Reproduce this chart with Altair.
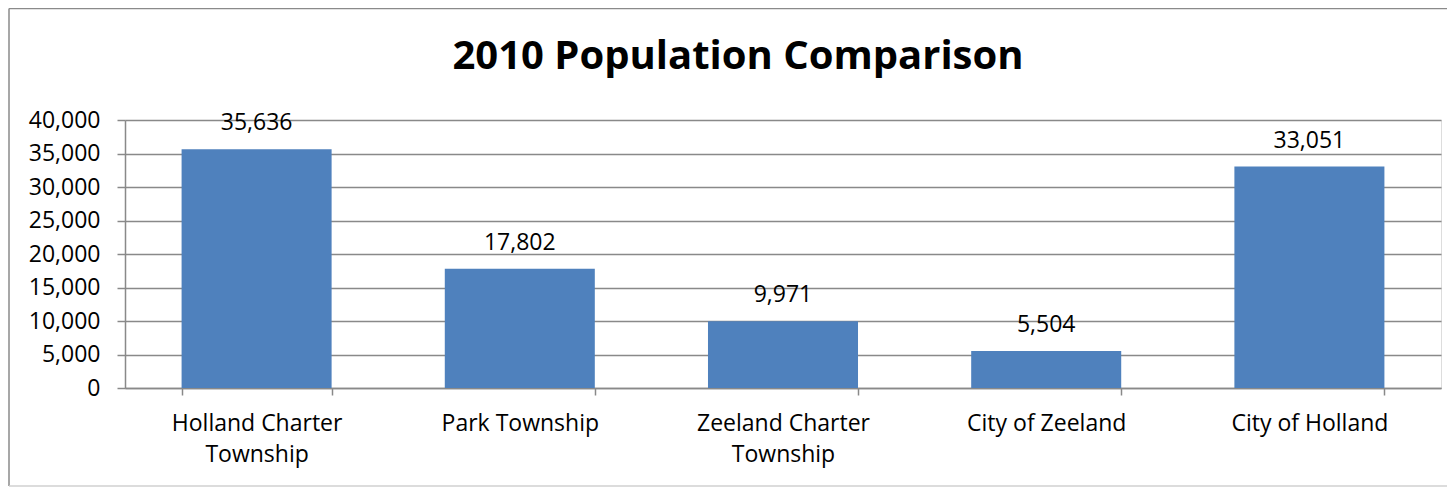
import altair as alt
import pandas as pd

categories = [
    "Holland Charter Township",
    "Park Township",
    "Zeeland Charter Township",
    "City of Zeeland",
    "City of Holland",
]
populations = [35636, 17802, 9971, 5504, 33051]
y_ticks = [0, 5000, 10000, 15000, 20000, 25000, 30000, 35000, 40000]

df = pd.DataFrame({"place": categories, "population": populations})

FONT = "Open Sans"
GRID = "#898989"
BAR = "#4F81BD"
FS = 23

x_enc = alt.X(
    "place:N",
    sort=categories,
    title=None,
    scale=alt.Scale(paddingInner=0.43, paddingOuter=0.215),
    axis=alt.Axis(
        labelAngle=0,
        labelExpr="split(replace(datum.label, ' Charter ', ' Charter|'), '|')",
        labelFont=FONT,
        labelFontSize=FS,
        labelColor="#000000",
        labelLineHeight=31,
        labelPadding=17,
        labelBaseline="top",
        tickBand="extent",
        tickSize=7,
        tickColor=GRID,
        tickWidth=1.5,
        domainColor=GRID,
        domainWidth=1.5,
        grid=False,
    ),
)
y_enc = alt.Y(
    "population:Q",
    title=None,
    scale=alt.Scale(domain=[0, 40000], nice=False),
    axis=alt.Axis(
        values=y_ticks,
        format=",d",
        labelFont=FONT,
        labelFontSize=FS,
        labelColor="#000000",
        labelPadding=17,
        labelOverlap=False,
        tickSize=8,
        tickColor=GRID,
        tickWidth=1.5,
        domainColor=GRID,
        domainWidth=1.5,
        grid=True,
        gridColor=GRID,
        gridWidth=1.5,
    ),
)

bars = alt.Chart(df).mark_bar(color=BAR).encode(x=x_enc, y=y_enc)

labels = alt.Chart(df).mark_text(
    font=FONT, fontSize=FS, baseline="alphabetic", dy=-19, color="#000000"
).encode(
    x=x_enc,
    y=y_enc,
    text=alt.Text("population:Q", format=",d"),
)

frame_df = pd.DataFrame({"k": [0]})
frame_left = alt.Chart(frame_df).mark_rule(color="#8a8a8a", strokeWidth=1.5).encode(
    x=alt.value(-116), y=alt.value(-111.5), y2=alt.value(366)
)
frame_top = alt.Chart(frame_df).mark_rule(color="#8a8a8a", strokeWidth=1.5).encode(
    x=alt.value(-116), x2=alt.value(1330), y=alt.value(-111.5)
)
frame_bottom = alt.Chart(frame_df).mark_rule(color="#d0d0d0", strokeWidth=1.5).encode(
    x=alt.value(-116), x2=alt.value(1330), y=alt.value(366)
)

chart = (
    alt.layer(bars, labels, frame_left, frame_top, frame_bottom)
    .properties(
        width=1316,
        height=268,
        padding={"left": 117, "top": 112, "right": 6, "bottom": 99},
        autosize=alt.AutoSizeParams(type="none"),
        title=alt.TitleParams(
            "2010 Population Comparison",
            font=FONT,
            fontSize=40,
            fontWeight="bold",
            color="#000000",
            anchor="middle",
            baseline="alphabetic",
            offset=20,
            dx=-45,
            dy=121,
        ),
    )
    .configure_view(stroke=None)
    .configure(background="white")
)

chart.save("out.html", embed_options={"renderer": "svg", "actions": False})
